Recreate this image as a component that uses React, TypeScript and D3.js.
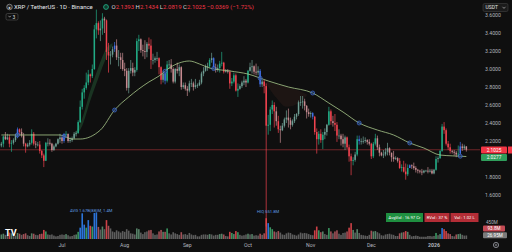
import React from "react";
import * as d3 from "d3";

const W = 512;
const H = 252;

// Daily candles, 2025-06-01 .. 2026-01-17 (open = previous close)
const firstDay = "2025-06-01";
const firstOpen = 2.15;
const closes = [
  // Jun
  2.17,2.25,2.22,2.24,2.17,2.18,2.21,2.26,2.33,2.30,2.26,2.17,2.14,2.16,2.18,2.28,2.17,2.16,2.16,2.09,2.04,1.98,2.18,2.18,2.17,2.10,2.14,2.17,2.22,2.24,
  // Jul
  2.20,2.27,2.28,2.20,2.21,2.23,2.28,2.29,2.41,2.58,2.74,2.79,2.85,2.94,2.92,3.00,3.44,3.51,3.43,3.45,3.56,3.54,3.19,3.15,3.16,3.22,3.26,3.13,3.13,3.10,3.00,
  // Aug
  2.98,2.79,2.98,3.01,2.96,2.99,3.31,3.33,3.21,3.20,3.19,3.28,3.26,3.10,3.10,3.12,3.12,3.02,2.88,2.95,2.87,3.05,3.05,3.00,2.86,3.00,2.98,3.02,2.80,2.82,2.78,
  // Sep
  2.76,2.84,2.84,2.80,2.82,2.82,2.85,2.95,2.98,3.03,3.03,3.10,3.12,3.02,2.99,3.01,3.06,3.07,2.97,2.98,2.97,2.84,2.86,2.93,2.76,2.78,2.81,2.85,2.87,2.85,
  // Oct
  2.98,3.02,3.03,2.97,2.96,2.98,2.83,2.86,2.81,2.37,2.38,2.55,2.60,2.53,2.42,2.33,2.32,2.37,2.44,2.46,2.43,2.38,2.42,2.47,2.50,2.63,2.63,2.64,2.59,2.52,2.50,
  // Nov
  2.51,2.47,2.30,2.22,2.28,2.21,2.27,2.30,2.38,2.53,2.42,2.40,2.38,2.26,2.26,2.22,2.17,2.24,2.13,2.03,1.98,1.99,2.05,2.22,2.20,2.20,2.20,2.21,2.19,2.17,
  // Dec
  2.03,2.17,2.23,2.13,2.07,2.04,2.05,2.08,2.12,2.07,2.02,2.00,2.01,1.98,1.90,1.91,1.86,1.83,1.90,1.93,1.92,1.90,1.88,1.87,1.86,1.85,1.87,1.87,1.86,1.87,1.84,
  // Jan
  1.88,2.00,2.01,2.09,2.36,2.32,2.17,2.13,2.09,2.08,2.07,2.05,2.06,2.14,2.12,2.1393,2.1025,
];
const highs = [
  2.19,2.26,2.30,2.28,2.27,2.21,2.23,2.28,2.35,2.34,2.34,2.29,2.18,2.18,2.21,2.33,2.30,2.20,2.19,2.20,2.10,2.06,2.19,2.23,2.22,2.18,2.16,2.18,2.23,2.28,
  2.25,2.29,2.31,2.28,2.24,2.25,2.30,2.31,2.43,2.65,2.78,2.82,2.96,2.99,2.95,3.05,3.49,3.66,3.53,3.54,3.62,3.58,3.55,3.29,3.20,3.25,3.30,3.33,3.21,3.18,3.18,
  3.07,3.01,3.01,3.10,3.07,3.02,3.34,3.38,3.34,3.27,3.32,3.30,3.35,3.33,3.17,3.14,3.19,3.13,3.03,2.98,2.97,3.09,3.10,3.11,3.02,3.01,3.07,3.05,3.03,2.85,2.85,
  2.81,2.87,2.89,2.86,2.89,2.84,2.88,2.97,3.02,3.05,3.07,3.12,3.18,3.13,3.06,3.05,3.09,3.19,3.08,3.00,3.00,2.99,2.90,2.96,2.95,2.84,2.83,2.87,2.92,2.89,
  2.99,3.07,3.10,3.04,3.06,3.03,3.00,2.88,2.88,2.84,2.49,2.58,2.65,2.63,2.58,2.48,2.37,2.40,2.46,2.54,2.56,2.46,2.44,2.50,2.51,2.65,2.70,2.70,2.67,2.60,2.56,
  2.53,2.52,2.48,2.34,2.31,2.33,2.30,2.34,2.39,2.58,2.55,2.48,2.50,2.41,2.33,2.28,2.28,2.26,2.25,2.16,2.06,2.02,2.08,2.26,2.26,2.23,2.25,2.24,2.22,2.22,
  2.18,2.19,2.28,2.26,2.16,2.08,2.10,2.12,2.18,2.13,2.06,2.09,2.03,2.02,2.01,1.94,1.98,1.95,1.94,1.94,1.94,1.96,1.92,1.89,1.88,1.89,1.88,1.88,1.91,1.89,1.89,
  1.89,2.03,2.03,2.10,2.39,2.41,2.34,2.20,2.17,2.10,2.10,2.09,2.15,2.19,2.17,2.16,2.1434,
];
const lows = [
  2.13,2.13,2.21,2.21,2.13,2.08,2.16,2.19,2.23,2.27,2.24,2.14,2.07,2.13,2.14,2.16,2.15,2.12,2.14,2.06,2.01,1.91,1.98,2.14,2.15,2.08,2.09,2.13,2.16,2.18,
  2.17,2.18,2.25,2.18,2.18,2.19,2.22,2.25,2.28,2.40,2.55,2.67,2.77,2.82,2.85,2.90,2.99,3.34,3.38,3.31,3.38,3.40,3.10,2.96,3.05,3.13,3.19,3.10,3.03,3.00,2.98,
  2.92,2.76,2.73,2.95,2.92,2.92,2.97,3.20,3.18,3.14,3.11,3.13,3.22,3.00,3.05,3.07,3.09,2.94,2.83,2.85,2.83,2.85,3.00,2.96,2.84,2.84,2.95,2.92,2.77,2.78,2.76,
  2.70,2.74,2.80,2.76,2.78,2.79,2.81,2.83,2.92,2.97,2.98,3.01,3.07,3.00,2.96,2.97,2.96,3.03,2.95,2.96,2.95,2.78,2.81,2.84,2.75,2.69,2.77,2.79,2.82,2.80,
  2.84,2.97,2.95,2.94,2.93,2.93,2.80,2.80,2.73,1.25,2.27,2.31,2.50,2.35,2.37,2.29,2.18,2.31,2.35,2.40,2.35,2.33,2.36,2.40,2.44,2.48,2.59,2.56,2.54,2.45,2.47,
  2.46,2.44,2.27,2.06,2.16,2.18,2.11,2.22,2.26,2.37,2.38,2.36,2.31,2.19,2.22,2.15,2.13,2.10,2.11,1.97,1.82,1.93,1.97,2.03,2.16,2.16,2.17,2.18,2.16,2.15,
  2.00,2.01,2.15,2.10,2.03,2.03,2.01,2.03,2.04,2.04,1.97,1.97,1.99,1.96,1.89,1.86,1.85,1.77,1.81,1.90,1.89,1.88,1.85,1.84,1.84,1.82,1.84,1.86,1.84,1.85,1.83,
  1.83,1.87,1.96,2.00,2.08,2.28,2.15,2.10,2.06,2.06,2.04,2.02,2.03,2.05,2.09,2.10,2.0819,
];
// Volume in millions
const volumesM = [
  120,140,110,100,170,150,80,90,160,140,110,130,150,100,80,150,140,110,100,130,140,240,200,120,110,120,90,70,80,110,
  120,110,130,100,70,80,110,120,190,300,680,380,300,500,350,330,690,700,320,250,330,260,500,350,280,200,180,230,200,170,210,
  190,260,220,150,140,120,280,260,170,130,180,200,230,240,150,110,120,200,240,190,190,280,150,120,180,150,130,110,180,120,130,
  110,160,120,100,110,70,70,110,120,120,110,130,120,90,110,110,130,140,120,80,70,190,160,130,210,180,110,90,100,120,
  140,120,130,90,100,90,140,110,150,550,420,310,260,200,180,210,170,120,110,150,170,160,120,110,90,120,170,150,160,150,130,
  110,100,230,330,230,180,200,130,110,290,200,150,200,230,140,110,160,170,200,300,420,240,170,260,160,110,100,90,80,110,
  220,200,210,180,150,100,90,120,130,140,120,110,80,80,150,170,180,210,190,110,70,80,90,80,60,60,60,60,80,80,70,
  80,160,100,130,290,260,210,150,130,80,70,120,130,140,110,90,94,
];

// Slow moving-average line
const maDates = ["2025-06-01","2025-06-30","2025-07-06","2025-07-10","2025-07-20","2025-07-27","2025-08-03","2025-08-13","2025-08-18","2025-08-23","2025-08-28","2025-09-02","2025-09-07","2025-09-12","2025-09-22","2025-10-01","2025-10-11","2025-10-21","2025-11-02","2025-11-10","2025-11-17","2025-11-25","2025-12-04","2025-12-12","2025-12-20","2025-12-27","2026-01-04","2026-01-10","2026-01-17"];
const maValues = [2.267,2.267,2.222,2.222,2.322,2.544,2.689,2.856,2.922,3.011,3.067,3.089,3.056,3.011,2.978,2.944,2.867,2.8,2.733,2.622,2.522,2.4,2.322,2.267,2.178,2.122,2.044,2.035,2.0277];

// Signal markers (blue candles + circles on the MA)
const signalDates = ["2025-06-09","2025-07-02","2025-07-27","2025-08-21","2025-09-14","2025-10-07","2025-11-02","2025-11-25","2025-12-20","2026-01-14"];

// Trend fill bands
const greenBandDates = ["2025-07-07","2025-07-11","2025-07-15","2025-07-19","2025-07-23","2025-07-26"];
const greenBandUpper = [2.27,2.45,2.76,3.02,3.23,3.29];
const greenBandLower = [2.25,2.37,2.65,2.90,3.13,3.26];
const redBandDates = ["2025-10-10","2025-10-15","2025-10-20","2025-10-26","2025-10-30"];
const redBandUpper = [2.86,2.83,2.80,2.76,2.72];
const redBandLower = [2.84,2.68,2.58,2.62,2.70];

const priceTicks = [3.6,3.4,3.2,3.0,2.8,2.6,2.4,2.2,2.0,1.8,1.6];
const monthTickDates = ["2025-07-01","2025-08-01","2025-09-01","2025-10-01","2025-11-01","2025-12-01","2026-01-01"];
const monthTickLabels = ["Jul","Aug","Sep","Oct","Nov","Dec","2026"];

const lastPrice = 2.1025;

const parse = d3.timeParse("%Y-%m-%d");
const FONT = "Roboto, 'Noto Sans', sans-serif";

export default function App() {
  const start = parse(firstDay)!;
  const dates = closes.map((_, i) => d3.timeDay.offset(start, i));
  const x = d3.scaleTime().domain([parse("2025-07-01")!, parse("2026-01-01")!]).range([62, 434]);
  const y = d3.scaleLinear().domain([1.6, 3.6]).range([195, 15]);
  const vy = d3.scaleLinear().domain([0, 450]).range([239, 222]);
  const fmt = d3.format(".4f");
  const signalSet = new Set(signalDates);
  const dayKey = d3.timeFormat("%Y-%m-%d");
  const maAt = d3.scaleLinear().domain(maDates.map((m) => +parse(m)!)).range(maValues);

  const rel = volumesM.map((v, i) => {
    const prev = volumesM.slice(Math.max(0, i - 20), i);
    const m = prev.length ? d3.mean(prev)! : v;
    return v / m;
  });

  const maLine = d3.line<number>()
    .x((_, i) => x(parse(maDates[i])!))
    .y((v) => y(v))
    .curve(d3.curveMonotoneX);

  const band = (ds: string[], up: number[], lo: number[]) =>
    d3.area<number>()
      .x((_, i) => x(parse(ds[i])!))
      .y0((_, i) => y(lo[i]))
      .y1((v) => y(v))
      .curve(d3.curveMonotoneX)(up) || "";

  const candles = dates.map((d, i) => {
    const o = i === 0 ? firstOpen : closes[i - 1];
    const c = closes[i];
    const hi = Math.max(highs[i], o, c);
    const lo = Math.min(lows[i], o, c);
    const up = c >= o;
    let col: string;
    if (signalSet.has(dayKey(d))) col = "#3f6fe6";
    else if (rel[i] >= 1.05) col = up ? "#22ab85" : "#f0434f";
    else col = up ? "#6f9f94" : "#c68b90";
    const cx = x(d);
    const yt = y(Math.max(o, c));
    const yb = y(Math.min(o, c));
    return (
      <g key={i}>
        <line x1={cx} x2={cx} y1={y(hi)} y2={y(lo)} stroke={col} strokeWidth={0.7} />
        <rect x={cx - 0.75} y={yt} width={1.5} height={Math.max(0.7, yb - yt)} fill={col} />
      </g>
    );
  });

  const vols = dates.map((d, i) => {
    const o = i === 0 ? firstOpen : closes[i - 1];
    const up = closes[i] >= o;
    const r = rel[i];
    let col: string;
    if (r >= 2 && up) col = "#2f7ff0";
    else if (r >= 1.4) col = up ? "#3fa56a" : "#e2474e";
    else if (r >= 1.0) col = up ? "#5e8f72" : "#b2585f";
    else col = "#666666";
    const cx = x(d);
    return <rect key={i} x={cx - 0.8} y={vy(volumesM[i])} width={1.6} height={239 - vy(volumesM[i])} fill={col} opacity={0.9} />;
  });

  return (
    <svg width={W} height={H} style={{ position: "absolute", left: 0, top: 0, display: "block" }} fontFamily={FONT}>
      <rect x={0} y={0} width={W} height={H} fill="#0f0f0f" />
      <defs>
        <clipPath id="plot"><rect x={0} y={0} width={480} height={239} /></clipPath>
      </defs>
      <g clipPath="url(#plot)">
        {vols}
        <path d={band(greenBandDates, greenBandUpper, greenBandLower)} fill="#2a6b3e" opacity={0.4} />
        <path d={band(redBandDates, redBandUpper, redBandLower)} fill="#a0503c" opacity={0.1} />
        <line x1={0} x2={480} y1={y(lastPrice)} y2={y(lastPrice)} stroke="#b3353c" strokeWidth={0.7} opacity={0.85} />
        {candles}
        <path d={maLine(maValues) || ""} fill="none" stroke="#a9c98c" strokeWidth={0.8} />
        {signalDates.map((s) => {
          const d = parse(s)!;
          return <circle key={s} cx={x(d)} cy={y(maAt(+d))} r={2} fill="#1d3f8f" fillOpacity={0.5} stroke="#4a7be8" strokeWidth={0.6} />;
        })}
      </g>

      {/* header */}
      <circle cx={9.5} cy={7} r={2.8} fill="#2a2a2a" stroke="#cfcfcf" strokeWidth={0.5} />
      <text x={9.5} y={8.6} fontSize={3.6} fill="#fff" textAnchor="middle" fontWeight="bold">x</text>
      <text x={14} y={9.2} fontSize={6} fill="#e6e8ee">XRP / TetherUS · 1D · Binance</text>
      <circle cx={106} cy={7} r={2.4} fill="#0f3b2c" stroke="#22ab85" strokeWidth={0.9} />
      <text x={111.5} y={9.2} fontSize={6} fill="#d1d4dc">
        O<tspan fill="#f23645">2.1393</tspan> H<tspan fill="#f23645">2.1434</tspan> L<tspan fill="#f23645">2.0819</tspan> C<tspan fill="#f23645">2.1025 −0.0369 (−1.72%)</tspan>
      </text>
      <rect x={6} y={13.5} width={12} height={6.5} rx={1.5} fill="none" stroke="#555" strokeWidth={0.6} />
      <path d="M8.5 15.8 L9.7 17.2 L10.9 15.8" fill="none" stroke="#ccc" strokeWidth={0.6} />
      <text x={12.5} y={18.6} fontSize={5} fill="#ddd">3</text>

      {/* price axis */}
      <rect x={483} y={3.5} width={25} height={8} rx={1.5} fill="#1b1b1b" stroke="#4a4a4a" strokeWidth={0.5} />
      <text x={485.5} y={9.4} fontSize={5} fill="#e0e0e0">USDT</text>
      <path d="M502.5 6.8 L504 8.4 L505.5 6.8" fill="none" stroke="#ccc" strokeWidth={0.6} />
      {priceTicks.filter((p) => y(p) < 144 || y(p) > 164).map((p) => (
        <text key={p} x={485} y={y(p) + 1.8} fontSize={5.2} fill="#b2b5be">{fmt(p)}</text>
      ))}
      <rect x={481} y={146.5} width={26} height={7} rx={1} fill="#f23645" />
      <text x={494} y={151.6} fontSize={4.8} fill="#fff" textAnchor="middle">{fmt(lastPrice)}</text>
      <rect x={508} y={146.5} width={4} height={7} fill="#f23645" />
      <rect x={481} y={154} width={26} height={7} rx={1} fill="#2f9e5b" />
      <text x={494} y={159.2} fontSize={4.8} fill="#fff" textAnchor="middle">{fmt(maValues[maValues.length - 1])}</text>

      {/* volume annotations */}
      <text x={70} y={212} fontSize={4.2} fill="#5d9be0">AVG 1.67B(88)M, 1.4M</text>
      <text x={257} y={213} fontSize={4.2} fill="#5d9be0">HIQ 551.8M</text>
      <rect x={386} y={213} width={37} height={9} fill="#1f8f40" />
      <text x={404.5} y={219.2} fontSize={4.2} fill="#fff" textAnchor="middle">AvgVol : 16.97 Cr</text>
      <rect x={424.5} y={213} width={25} height={9} fill="#b32d36" />
      <text x={437} y={219.2} fontSize={4.2} fill="#fff" textAnchor="middle">RVol : 37 %</text>
      <rect x={450.5} y={213} width={28} height={9} fill="#b32d36" />
      <text x={464.5} y={219.2} fontSize={4.2} fill="#fff" textAnchor="middle">Vol : 1.02 L</text>
      <text x={486} y={223.5} fontSize={4.6} fill="#b2b5be">450M</text>
      <rect x={483} y={225.5} width={22} height={6} rx={1} fill="#c24a55" />
      <text x={494} y={230.2} fontSize={4.6} fill="#fff" textAnchor="middle">93.8M</text>
      <rect x={483} y={232.2} width={24} height={6} rx={1} fill="#7b7b7b" />
      <text x={495} y={236.9} fontSize={4.6} fill="#fff" textAnchor="middle">26.95M</text>

      {/* TV logo */}
      <text x={5} y={236} fontSize={9} fontWeight="bold" fill="#ffffff">TV</text>

      {/* time axis */}
      {monthTickDates.map((m, i) => (
        <text key={m} x={x(parse(m)!)} y={247} fontSize={5.2} fill="#b2b5be" textAnchor="middle" fontWeight={i === 6 ? "bold" : "normal"}>{monthTickLabels[i]}</text>
      ))}
      <circle cx={496} cy={245} r={2.6} fill="none" stroke="#b2b5be" strokeWidth={0.7} />
      <circle cx={496} cy={245} r={0.9} fill="none" stroke="#b2b5be" strokeWidth={0.5} />
    </svg>
  );
}
